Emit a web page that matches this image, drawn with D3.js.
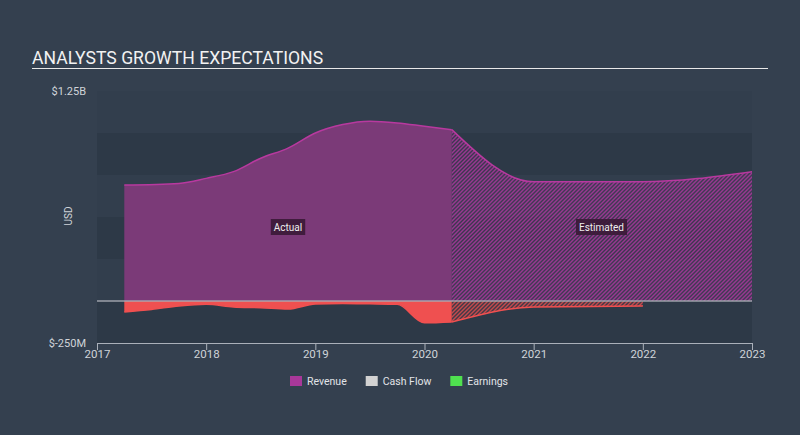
<!DOCTYPE html>
<html><head><meta charset="utf-8">
<script src="https://cdn.jsdelivr.net/npm/d3@7"></script>
<style>
html,body{margin:0;padding:0;background:#34404f;}
svg{display:block;font-family:Roboto,"Open Sans",sans-serif;}
</style></head>
<body>
<svg id="c" width="800" height="435"></svg>
<script>
// ---- data ----
const revenueActual = [
  [2017.25,0.69],[2017.75,0.70],[2018.0,0.73],[2018.25,0.77],[2018.5,0.85],[2018.75,0.91],
  [2019.0,1.00],[2019.25,1.05],[2019.5,1.07],[2019.75,1.06],[2020.0,1.04],[2020.25,1.02]
];
const revenueEstimated = [[2020.25,1.02],[2021.0,0.71],[2022.0,0.71],[2023.0,0.77]];
const earningsActual = [
  [2017.25,-0.065],[2017.5,-0.05],[2017.75,-0.03],[2018.0,-0.02],[2018.25,-0.035],[2018.5,-0.04],
  [2018.75,-0.048],[2019.0,-0.018],[2019.25,-0.015],[2019.5,-0.017],[2019.75,-0.02],[2020.0,-0.13],[2020.25,-0.125]
];
const earningsEstimated = [[2020.25,-0.125],[2021.0,-0.036],[2022.0,-0.03]];
const yearTicks = [2017,2018,2019,2020,2021,2022,2023];
const yTickLabels = [[1.25,"$1.25B"],[-0.25,"$-250M"]];
const legendItems = [["Revenue","#a8389a"],["Cash Flow","#d2d2d2"],["Earnings","#4fe04f"]];

const svg = d3.select("#c");
const L=97,R=752,T=91,B=343;
const x = d3.scaleLinear().domain([2017,2023]).range([L,R]);
const y = d3.scaleLinear().domain([-0.25,1.25]).range([B,T]);

// defs
const defs = svg.append("defs");
function hatch(id,color,w){
  const s = 2*Math.SQRT2;
  const p = defs.append("pattern").attr("id",id).attr("patternUnits","userSpaceOnUse")
    .attr("width",s).attr("height",s).attr("patternTransform","rotate(45)");
  p.append("rect").attr("width",s).attr("height",s).attr("fill","#2f3443").attr("opacity",0.35);
  p.append("line").attr("x1",s/4).attr("y1",0).attr("x2",s/4).attr("y2",s)
    .attr("stroke",color).attr("stroke-width",w);
}
hatch("hr","#a9379c",1.4);
hatch("he","#e84c4e",1.3);

// title
svg.append("text").attr("x",32).attr("y",63.5).attr("fill","#f2f2f2")
  .attr("font-size",17.6).text("ANALYSTS GROWTH EXPECTATIONS");
svg.append("line").attr("x1",32).attr("x2",768).attr("y1",68.5).attr("y2",68.5)
  .attr("stroke","#e8e8e8").attr("stroke-width",1);

// plot bg + bands
svg.append("rect").attr("x",L).attr("y",T).attr("width",R-L).attr("height",B-T).attr("fill","#323e4d");
const bandStarts=[1.0,0.5,0.0];
bandStarts.forEach(v=>{
  svg.append("rect").attr("x",L).attr("width",R-L).attr("y",y(v)).attr("height",y(v-0.25)-y(v))
    .attr("fill","#2d3947");
});

const cur = d3.curveMonotoneX;
const area = d3.area().x(d=>x(d[0])).y0(y(0)).y1(d=>y(d[1])).curve(cur);
const line = d3.line().x(d=>x(d[0])).y(d=>y(d[1])).curve(cur);

// revenue
svg.append("path").datum(revenueActual).attr("d",area).attr("fill","#7b3a78");
svg.append("path").datum(revenueEstimated).attr("d",area).attr("fill","url(#hr)");
svg.append("path").datum(revenueActual).attr("d",line).attr("fill","none").attr("stroke","#b8399f").attr("stroke-width",1.5);
svg.append("path").datum(revenueEstimated).attr("d",line).attr("fill","none").attr("stroke","#b8399f").attr("stroke-width",1.5);

// earnings
svg.append("path").datum(earningsActual).attr("d",area).attr("fill","#ef5050");
svg.append("path").datum(earningsEstimated).attr("d",area).attr("fill","url(#he)");
svg.append("path").datum(earningsActual).attr("d",line).attr("fill","none").attr("stroke","#f05050").attr("stroke-width",1.5);
svg.append("path").datum(earningsEstimated).attr("d",line).attr("fill","none").attr("stroke","#f05050").attr("stroke-width",1.5);

// zero line
svg.append("line").attr("x1",L).attr("x2",R).attr("y1",y(0)).attr("y2",y(0))
  .attr("stroke","#a9adb4").attr("stroke-width",1.5).attr("opacity",0.9);

// labels Actual / Estimated
function tag(cx,txt){
  const g=svg.append("g");
  const t=g.append("text").attr("x",cx).attr("y",230.5).attr("text-anchor","middle")
    .attr("fill","#eee").attr("font-size",10).text(txt);
  const bb=t.node().getBBox();
  g.insert("rect","text").attr("x",bb.x-3).attr("y",219).attr("width",bb.width+6).attr("height",16)
    .attr("fill","#3a1a36").attr("opacity",0.9);
}
tag(288,"Actual");
tag(601.5,"Estimated");

// x axis
const xa = d3.axisBottom(x).tickValues(yearTicks).tickFormat(d3.format("d")).tickSize(7).tickSizeOuter(0);
const gx = svg.append("g").attr("transform",`translate(0,${B})`).call(xa);
gx.select(".domain").attr("stroke","#aab0ba");
gx.selectAll(".tick line").attr("stroke","#aab0ba");
gx.selectAll("text").attr("fill","#d0d4d9").attr("font-size",11.5).attr("dy","0.45em")
  .attr("font-family","Roboto,sans-serif");

// y labels
yTickLabels.forEach(([v,s])=>{
  svg.append("text").attr("x",86).attr("y",y(v)).attr("dy","0.35em").attr("text-anchor","end")
    .attr("fill","#d0d4d9").attr("font-size",11).text(s);
});
svg.append("text").attr("transform","translate(72,216) rotate(-90)").attr("text-anchor","middle")
  .attr("fill","#d0d4d9").attr("font-size",10).text("USD");

// legend
let lx=290;
legendItems.forEach(([name,col])=>{
  svg.append("rect").attr("x",lx).attr("y",376).attr("width",12).attr("height",10).attr("fill",col);
  const t=svg.append("text").attr("x",lx+17).attr("y",385).attr("fill","#e2e4e8").attr("font-size",10.5).text(name);
  lx += 17 + t.node().getComputedTextLength() + 19;
});
</script>
</body></html>
